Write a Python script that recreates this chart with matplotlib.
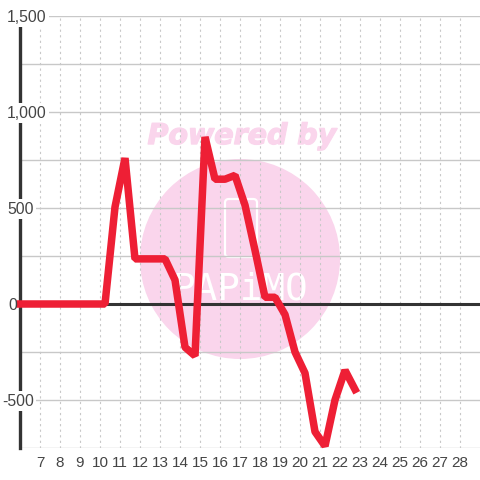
import matplotlib
matplotlib.use('Agg')
import matplotlib.pyplot as plt
import matplotlib.patheffects as pe
from matplotlib.patches import Circle, FancyBboxPatch

x_ticks = list(range(7, 29))
y_ticks = [-500, 0, 500, 1000, 1500]
y_labels = ['-500', '0', '500', '1,000', '1,500']
y_grid = [-750, -500, -250, 250, 500, 750, 1000, 1250, 1500]

days = [6, 6.25, 6.75, 7.25, 7.75, 8.25, 8.75, 9.25, 9.75, 10.25, 10.75, 11.25, 11.75, 12.25,
        12.75, 13.25, 13.75, 14.25, 14.75, 15.25, 15.75, 16.25, 16.75, 17.25, 17.75, 18.25,
        18.75, 19.25, 19.75, 20.25, 20.75, 21.25, 21.75, 22.25, 22.75]
values = [0, 0, 0, 0, 0, 0, 0, 0, 0, 0, 505, 760, 235, 235, 235, 235, 125, -225, -270,
          870, 650, 650, 670, 515, 280, 35, 35, -55, -250, -360, -665, -740, -500, -345, -445]

plt.rcParams['font.family'] = ['Liberation Sans', 'DejaVu Sans']

fig = plt.figure(figsize=(4.8, 4.8), dpi=100)
ax = fig.add_axes([20 / 480, 32 / 480, 460 / 480, 432 / 480])
ax.patch.set_visible(False)
ax.set_xlim(6, 29)
ax.set_ylim(-750, 1500)

# watermark sits behind the axes
pink = '#fad5ec'
fig.add_artist(Circle((240 / 480, 221 / 480), 100 / 480, transform=fig.transFigure,
                      color=pink, lw=0, zorder=-2))
fig.add_artist(FancyBboxPatch((225 / 480, 223 / 480), 32 / 480, 58 / 480,
                              boxstyle='round,pad=0,rounding_size=0.008',
                              transform=fig.transFigure, fc='none', ec='white', lw=1.6, zorder=-1))
fig.text(242 / 480, 344 / 480, 'Powered by', color=pink, fontsize=20.5, fontweight='bold',
         fontstyle='italic', family='DejaVu Sans', ha='center', va='center', zorder=-1,
         path_effects=[pe.withStroke(linewidth=1, foreground=pink)])
fig.text(240 / 480, 190 / 480, 'PAPiMO', color='white', fontsize=27, family='DejaVu Sans Mono',
         ha='center', va='center', zorder=-1)

ax.hlines(y_grid, 6, 29, color='#c8c8c8', lw=1, zorder=1)
ax.vlines(x_ticks, -750, 1500, color='#c8c8c8', lw=0.8, linestyles=(0, (2, 3)), zorder=1)
ax.axhline(0, color='#333333', lw=2.2, zorder=2)

ax.plot(days, values, color='#ee1f35', lw=5.4, solid_joinstyle='bevel',
        solid_capstyle='projecting', clip_on=False, zorder=3)

for s in ['top', 'right', 'bottom']:
    ax.spines[s].set_visible(False)
ax.spines['left'].set_linewidth(2.4)
ax.spines['left'].set_color('#333333')
ax.spines['left'].set_zorder(2.5)

ax.set_xticks(x_ticks)
ax.tick_params(axis='x', length=0, pad=6, labelsize=11, labelcolor='#444444')
ax.set_yticks([])

for v, lab in zip(y_ticks, y_labels):
    left = 2 if v < 0 else (8 if v == 0 else 7)
    ax.annotate(lab, xy=(0, v), xycoords=('axes fraction', 'data'),
                xytext=(left - 20, -1), textcoords='offset pixels',
                ha='left', va='center', fontsize=11.3, color='#444444', zorder=4,
                annotation_clip=False,
                bbox=dict(fc='white', ec='none', pad=1.5) if v != 0 else None)

fig.savefig('out.png', dpi=100)
